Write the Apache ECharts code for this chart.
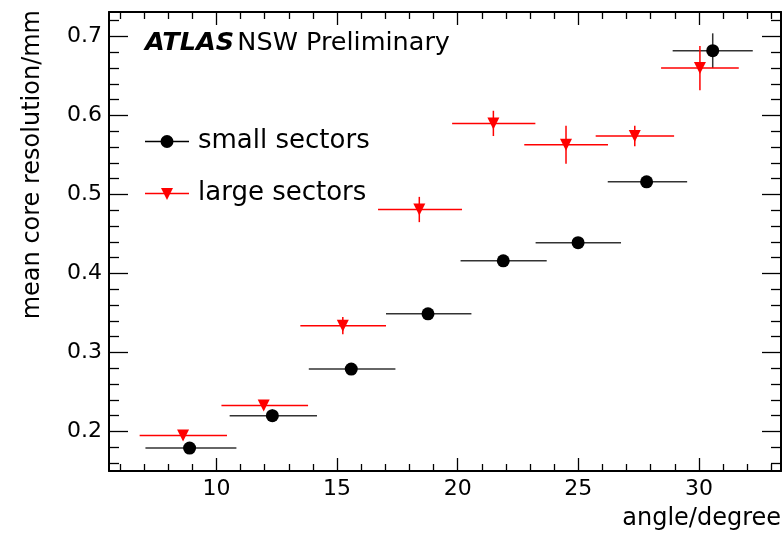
<!DOCTYPE html>
<html>
<head>
<meta charset="utf-8">
<script src="https://cdn.jsdelivr.net/npm/echarts@6/dist/echarts.min.js"></script>
<style>
  html, body { margin: 0; padding: 0; background: #fff; }
  #main { width: 783px; height: 533px; }
</style>
</head>
<body>
<div id="main"></div>
<script>
const chart = echarts.init(document.getElementById('main'));

// small sectors (black circles)
const smallX = [8.89, 12.32, 15.59, 18.77, 21.89, 24.99, 27.83, 30.57];
const smallY = [0.179, 0.220, 0.279, 0.349, 0.416, 0.439, 0.516, 0.682];
const smallXLo = [7.06, 10.55, 13.83, 17.03, 20.12, 23.23, 26.22, 28.91];
const smallXHi = [10.83, 14.17, 17.42, 20.57, 23.69, 26.77, 29.51, 32.23];
const smallYErr = [0.004, 0.008, 0.004, 0.004, 0.004, 0.004, 0.004, 0.022];

// large sectors (red triangles)
const largeX = [8.62, 11.96, 15.24, 18.41, 21.48, 24.49, 27.34, 30.04];
const largeY = [0.195, 0.233, 0.334, 0.481, 0.590, 0.563, 0.574, 0.660];
const largeXLo = [6.82, 10.21, 13.48, 16.70, 19.77, 22.76, 25.72, 28.43];
const largeXHi = [10.44, 13.80, 17.03, 20.18, 23.22, 26.23, 28.97, 31.65];
const largeYErr = [0.005, 0.005, 0.011, 0.016, 0.016, 0.024, 0.013, 0.028];

const xMajor = [10, 15, 20, 25, 30];
const xMinor = [6, 7, 8, 9, 11, 12, 13, 14, 16, 17, 18, 19, 21, 22, 23, 24, 26, 27, 28, 29, 31, 32, 33];
const yMajor = [0.2, 0.3, 0.4, 0.5, 0.6, 0.7];
const yMinor = [0.16, 0.18, 0.22, 0.24, 0.26, 0.28, 0.32, 0.34, 0.36, 0.38, 0.42, 0.44, 0.46, 0.48,
  0.52, 0.54, 0.56, 0.58, 0.62, 0.64, 0.66, 0.68, 0.72];

const X_MIN = 5.55, X_MAX = 33.4;
const Y_MIN = 0.15, Y_MAX = 0.731;
const FONT = '"DejaVu Sans", "Liberation Sans", sans-serif';

function zip(x, y, lo, hi, err) {
  return x.map((v, i) => [v, y[i], lo[i], hi[i], err[i]]);
}

function xAxis(position, ticks, len, line, labels) {
  return {
    type: 'value', position: position, min: X_MIN, max: X_MAX,
    axisLine: { show: line, onZero: false, lineStyle: { color: '#000', width: 2 } },
    axisTick: { show: true, inside: true, length: len, customValues: ticks, lineStyle: { color: '#000', width: 1.3 } },
    axisLabel: labels ? { show: true, customValues: xMajor, fontSize: 22, color: '#000', fontFamily: FONT, margin: 7 } : { show: false },
    splitLine: { show: false }
  };
}

function yAxis(position, ticks, len, line, labels) {
  return {
    type: 'value', position: position, min: Y_MIN, max: Y_MAX,
    axisLine: { show: line, onZero: false, lineStyle: { color: '#000', width: 2 } },
    axisTick: { show: true, inside: true, length: len, customValues: ticks, lineStyle: { color: '#000', width: 1.3 } },
    axisLabel: labels ? {
      show: true, customValues: yMajor, fontSize: 22, color: '#000', fontFamily: FONT, margin: 7,
      formatter: v => v.toFixed(1)
    } : { show: false },
    splitLine: { show: false }
  };
}

function errorBars(color) {
  return function (params, api) {
    const c = api.coord([api.value(0), api.value(1)]);
    const lo = api.coord([api.value(2), api.value(1)]);
    const hi = api.coord([api.value(3), api.value(1)]);
    const top = api.coord([api.value(0), api.value(1) + api.value(4)]);
    const bot = api.coord([api.value(0), api.value(1) - api.value(4)]);
    const style = { stroke: color, lineWidth: 1.5 };
    return {
      type: 'group',
      children: [
        { type: 'line', shape: { x1: lo[0], y1: c[1], x2: hi[0], y2: c[1] }, style: style },
        { type: 'line', shape: { x1: c[0], y1: top[1], x2: c[0], y2: bot[1] }, style: style }
      ]
    };
  };
}

chart.setOption({
  animation: false,
  grid: { left: 109, top: 12, right: 2, bottom: 62, containLabel: false },
  xAxis: [
    xAxis('bottom', xMajor, 13, true, true),
    xAxis('bottom', xMinor, 7, false, false),
    xAxis('top', xMajor, 13, true, false),
    xAxis('top', xMinor, 7, false, false)
  ],
  yAxis: [
    yAxis('left', yMajor, 19, true, true),
    yAxis('left', yMinor, 10, false, false),
    yAxis('right', yMajor, 19, true, false),
    yAxis('right', yMinor, 10, false, false)
  ],
  series: [
    {
      type: 'custom', name: 'small sectors err',
      renderItem: errorBars('#333'),
      encode: { x: 0, y: 1 },
      data: zip(smallX, smallY, smallXLo, smallXHi, smallYErr),
      z: 2
    },
    {
      type: 'custom', name: 'large sectors err',
      renderItem: errorBars('#ff0000'),
      encode: { x: 0, y: 1 },
      data: zip(largeX, largeY, largeXLo, largeXHi, largeYErr),
      z: 2
    },
    {
      type: 'scatter', name: 'small sectors',
      symbol: 'circle', symbolSize: 13,
      itemStyle: { color: '#000', opacity: 1 },
      data: smallX.map((v, i) => [v, smallY[i]]),
      z: 3
    },
    {
      type: 'scatter', name: 'large sectors',
      symbol: 'triangle', symbolSize: [12, 12], symbolRotate: 180,
      itemStyle: { color: '#ff0000', opacity: 1 },
      data: largeX.map((v, i) => [v, largeY[i]]),
      z: 3
    }
  ],
  graphic: [
    {
      type: 'text', x: 145, y: 43,
      style: {
        text: '{b|ATLAS} {n|NSW Preliminary}',
        textVerticalAlign: 'middle',
        rich: {
          b: { fontSize: 25.5, fontWeight: 'bold', fontStyle: 'italic', fontFamily: FONT, fill: '#000' },
          n: { fontSize: 25.5, fontFamily: FONT, fill: '#000' }
        }
      }
    },
    // legend
    { type: 'line', shape: { x1: 145, y1: 141.5, x2: 189, y2: 141.5 }, style: { stroke: '#000', lineWidth: 1.5 } },
    { type: 'circle', shape: { cx: 167, cy: 141.5, r: 6.5 }, style: { fill: '#000' } },
    {
      type: 'text', x: 198, y: 141.5,
      style: { text: 'small sectors', fontSize: 26, fontFamily: FONT, fill: '#000', textVerticalAlign: 'middle' }
    },
    { type: 'line', shape: { x1: 145, y1: 193.5, x2: 189, y2: 193.5 }, style: { stroke: '#ff0000', lineWidth: 1.5 } },
    { type: 'polygon', shape: { points: [[161, 188], [173, 188], [167, 200]] }, style: { fill: '#ff0000' } },
    {
      type: 'text', x: 198, y: 193.5,
      style: { text: 'large sectors', fontSize: 26, fontFamily: FONT, fill: '#000', textVerticalAlign: 'middle' }
    },
    // axis titles
    {
      type: 'text', x: 33, y: 10, rotation: Math.PI / 2,
      style: {
        text: 'mean core resolution/mm', fontSize: 24, fontFamily: FONT, fill: '#000',
        textAlign: 'right', textVerticalAlign: 'middle'
      }
    },
    {
      type: 'text', x: 781, y: 519,
      style: {
        text: 'angle/degree', fontSize: 24, fontFamily: FONT, fill: '#000',
        textAlign: 'right', textVerticalAlign: 'middle'
      }
    }
  ]
});
</script>
</body>
</html>
